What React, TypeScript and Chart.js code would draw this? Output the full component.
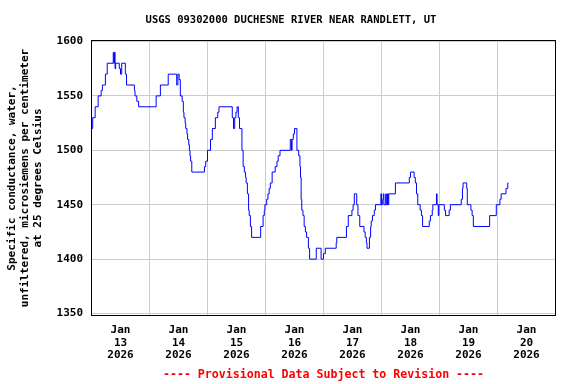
import { useEffect, useRef } from 'react';
import { Chart, registerables } from 'chart.js';

Chart.register(...registerables);

const TITLE = 'USGS 09302000 DUCHESNE RIVER NEAR RANDLETT, UT';
const NOTE = '---- Provisional Data Subject to Revision ----';
const Y_TITLE = [
  'Specific conductance, water,',
  'unfiltered, microsiemens per centimeter',
  'at 25 degrees Celsius',
];
const MONTH = 'Jan';
const YEAR = '2026';
const DAYS = ['13', '14', '15', '16', '17', '18', '19', '20'];
const Y_TICKS = [1350, 1400, 1450, 1500, 1550, 1600];

// hours since 2026-01-13 00:00 at which the reading changes
const HOURS = [
  -11.75, -11.5, -10.5, -9.25, -8, -7.5, -6.25, -5.5, -3, -2.75, -2.5, -2.25, -2, -0.5,
  0, 0.5, 2, 2.5, 5.75, 6, 6.75, 7.5, 14.75, 16.5, 19.75, 23.25, 23.75,
  24.25, 24.75, 25.5, 26, 26.25, 26.75, 27, 27.5, 27.75, 28.25, 28.5, 28.75, 29, 29.5, 34.75, 35.25, 36, 37.25, 38, 39.25, 40.25, 40.75, 46.25, 46.75, 47.25,
  47.75, 48.25, 48.75, 49.25, 50.25, 50.75, 51.25, 51.75, 52, 52.5, 53, 53.25, 53.75, 54.25, 58, 59, 59.5, 59.75, 60.5, 61, 61.5, 62, 62.75, 64, 64.75, 65.25, 66,
  70.25, 70.75, 71, 71.5, 72, 73, 73.75, 74.25, 74.5, 74.75, 75, 75.5, 76, 76.5, 77, 77.75, 78.25, 81, 83, 84, 84.75, 89.25, 89.5, 93.5, 94.25,
  95.75, 96.25, 96.75, 97.75, 98.25, 99, 100.75, 101.25, 101.75, 102, 103, 103.5, 103.75, 104.25, 105, 105.5,
  107.75, 108, 108.5, 108.75, 109, 109.75, 110, 110.5, 110.75, 111, 113.75, 119.5, 120, 121.5, 122, 122.5, 123, 124, 124.5, 125,
  127.75, 128.25, 129, 129.25, 130.75, 131, 131.5, 131.75, 134, 134.5, 136, 136.5,
  141, 141.5, 141.75, 143.25, 143.5, 145, 145.5, 146, 152.75, 155.5, 157, 157.5, 159.5, 160.25, 160.5,
];

// specific conductance, microsiemens per centimeter
const CONDUCTANCE = [
  1520, 1530, 1540, 1550, 1555, 1560, 1570, 1580, 1590, 1580, 1590, 1575, 1580, 1575,
  1570, 1580, 1570, 1560, 1555, 1550, 1545, 1540, 1550, 1560, 1570, 1560, 1570,
  1565, 1550, 1545, 1535, 1530, 1525, 1520, 1515, 1510, 1505, 1500, 1495, 1490, 1480, 1485, 1490, 1500, 1510, 1520, 1530, 1535, 1540, 1530, 1520, 1530,
  1535, 1540, 1530, 1520, 1500, 1485, 1480, 1475, 1470, 1460, 1445, 1440, 1430, 1420, 1430, 1440, 1445, 1450, 1455, 1460, 1465, 1470, 1480, 1485, 1490, 1495, 1500,
  1510, 1500, 1510, 1515, 1520, 1500, 1495, 1485, 1475, 1455, 1445, 1440, 1430, 1425, 1420, 1410, 1400, 1410, 1400, 1405, 1410, 1415, 1420, 1430, 1440,
  1445, 1450, 1460, 1450, 1440, 1430, 1425, 1420, 1415, 1410, 1420, 1430, 1435, 1440, 1445, 1450,
  1460, 1450, 1455, 1460, 1450, 1460, 1450, 1460, 1450, 1460, 1470, 1475, 1480, 1475, 1470, 1460, 1450, 1445, 1440, 1430,
  1435, 1440, 1445, 1450, 1460, 1450, 1440, 1450, 1445, 1440, 1445, 1450,
  1455, 1465, 1470, 1465, 1450, 1445, 1440, 1430, 1440, 1450, 1455, 1460, 1465, 1470, 1470,
];

const FONT = "'DejaVu Sans Mono', 'Liberation Mono', monospace";

const framePlugin = {
  id: 'frame',
  afterDraw(chart: any) {
    const { ctx, chartArea: a } = chart;
    ctx.save();
    ctx.strokeStyle = '#000000';
    ctx.lineWidth = 1;
    const l = Math.floor(a.left) + 0.5;
    const t = Math.floor(a.top) + 0.5;
    const r = Math.floor(a.right) + 0.5;
    const b = Math.floor(a.bottom) + 0.5;
    ctx.strokeRect(l, t, r - l, b - t);
    ctx.restore();
  },
};

export default function App() {
  const ref = useRef<HTMLCanvasElement>(null);

  useEffect(() => {
    const canvas = ref.current;
    if (!canvas) return;
    const points = HOURS.map((h, i) => ({ x: h, y: CONDUCTANCE[i] }));
    const xTickValues: number[] = [];
    for (let h = 0; h <= 168; h += 12) xTickValues.push(h);

    const chart = new Chart(canvas, {
      type: 'line',
      data: {
        datasets: [
          {
            data: points,
            borderColor: '#0000ff',
            borderWidth: 1,
            pointRadius: 0,
            stepped: true,
            fill: false,
          },
        ],
      },
      options: {
        animation: false,
        responsive: false,
        devicePixelRatio: 1,
        layout: { padding: { left: 6, right: 0, top: 0, bottom: 0 } },
        plugins: {
          legend: { display: false },
          tooltip: { enabled: false },
          title: {
            display: true,
            text: TITLE,
            color: '#000000',
            font: { family: FONT, size: 10.5, weight: 'bold', lineHeight: 1.2 },
            padding: { top: 14, bottom: 13.9 },
          },
        },
        scales: {
          x: {
            type: 'linear',
            min: -12,
            max: 180,
            afterBuildTicks: (s: any) => {
              s.ticks = xTickValues.map((v) => ({ value: v }));
            },
            afterFit: (s: any) => {
              s.height = 68.5;
            },
            grid: {
              drawTicks: false,
              lineWidth: 1,
              color: (c: any) =>
                c.tick && c.tick.value % 24 === 12 ? '#cccccc' : 'rgba(0,0,0,0)',
            },
            border: { display: false },
            ticks: {
              autoSkip: false,
              maxRotation: 0,
              minRotation: 0,
              padding: 8,
              color: '#000000',
              font: { family: FONT, size: 11, weight: 'bold', lineHeight: 12.8 / 11 },
              callback: (v: any) => {
                const n = Number(v);
                return n % 24 === 0 ? [MONTH, DAYS[n / 24], YEAR] : '';
              },
            },
            title: {
              display: true,
              text: NOTE,
              color: '#ff0000',
              font: { family: FONT, size: 11.6, weight: 'bold', lineHeight: 1.2 },
              padding: { top: 0, bottom: 2.2 },
            },
          },
          y: {
            type: 'linear',
            position: 'left',
            min: 1348.2,
            max: 1600.9,
            afterBuildTicks: (s: any) => {
              s.ticks = Y_TICKS.map((v) => ({ value: v }));
            },
            afterFit: (s: any) => {
              s.width = 85.5;
            },
            grid: { drawTicks: false, color: '#cccccc', lineWidth: 1 },
            border: { display: false },
            ticks: {
              padding: 8.5,
              color: '#000000',
              font: { family: FONT, size: 11, weight: 'bold' },
              callback: (v: any) => String(v),
            },
            title: {
              display: true,
              text: Y_TITLE,
              color: '#000000',
              font: { family: FONT, size: 11, weight: 'bold', lineHeight: 13 / 11 },
              padding: { top: 0, bottom: 0 },
            },
          },
          yRight: {
            type: 'linear',
            position: 'right',
            display: true,
            grid: { display: false },
            border: { display: false },
            ticks: { display: false },
            afterFit: (s: any) => {
              s.width = 20.5;
            },
          },
        },
      },
      plugins: [framePlugin],
    } as any);

    return () => chart.destroy();
  }, []);

  return (
    <div
      style={{
        position: 'fixed',
        left: 0,
        top: 0,
        width: 576,
        height: 384,
        background: '#ffffff',
      }}
    >
      <canvas
        ref={ref}
        width={576}
        height={384}
        style={{ display: 'block', width: 576, height: 384 }}
      />
    </div>
  );
}
